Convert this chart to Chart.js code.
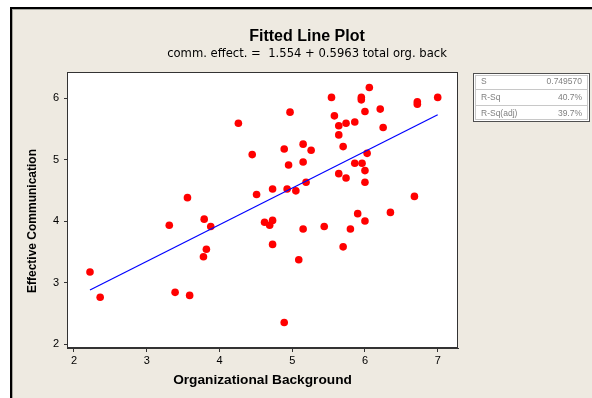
<!DOCTYPE html>
<html>
<head>
<meta charset="utf-8">
<script src="https://cdn.jsdelivr.net/npm/chart.js@4.4.1/dist/chart.umd.min.js"></script>
<style>
  html, body { margin: 0; padding: 0; background: #ffffff; }
  canvas { display: block; }
</style>
</head>
<body>
<canvas id="c" width="592" height="398"></canvas>
<script>
// ---- Data ----
const orgBackground = [2.22, 2.36, 3.31, 3.39, 3.56, 3.59, 3.78, 3.79, 3.82, 3.88,
  4.26, 4.45, 4.51, 4.62, 4.69, 4.73, 4.73, 4.73, 4.89, 4.89,
  4.93, 4.95, 4.97, 5.05, 5.09, 5.15, 5.15, 5.15, 5.19, 5.26,
  5.44, 5.54, 5.58, 5.64, 5.64, 5.64, 5.70, 5.70, 5.74, 5.74,
  5.80, 5.86, 5.86, 5.90, 5.95, 5.95, 5.96, 6.00, 6.00, 6.00,
  6.00, 6.03, 6.06, 6.21, 6.25, 6.35, 6.68, 6.72, 6.72, 7.00];
const effectiveComm = [3.17, 2.76, 3.93, 2.84, 4.38, 2.79, 3.42, 4.03, 3.54, 3.91,
  5.59, 5.08, 4.43, 3.98, 3.93, 4.01, 3.62, 4.52, 5.17, 2.35,
  4.52, 4.91, 5.77, 4.49, 3.37, 5.25, 4.96, 3.87, 4.63, 5.15,
  3.91, 6.01, 5.71, 5.55, 5.40, 4.77, 5.21, 3.58, 5.59, 4.70,
  3.87, 5.61, 4.94, 4.12, 6.01, 5.97, 4.94, 5.78, 4.82, 4.63,
  4.00, 5.10, 6.17, 5.82, 5.52, 4.14, 4.40, 5.94, 5.90, 6.01];
const fitLineX = [2.22, 7.00];
const fitLineY = [2.878, 5.728];
const xTickValues = [2, 3, 4, 5, 6, 7];
const yTickValues = [2, 3, 4, 5, 6];
const chartTitle = 'Fitted Line Plot';
const chartSubtitle = 'comm. effect. =  1.554 + 0.5963 total org. back';
const xAxisTitle = 'Organizational Background';
const yAxisTitle = 'Effective Communication';
const statLabels = ['S', 'R-Sq', 'R-Sq(adj)'];
const statValues = ['0.749570', '40.7%', '39.7%'];

const scatterData = orgBackground.map((x, i) => ({ x: x, y: effectiveComm[i] }));
const lineData = fitLineX.map((x, i) => ({ x: x, y: fitLineY[i] }));

const BG = '#EEEAE1';
const FONT = '"Liberation Sans", Arial, sans-serif';
const FONT2 = '"DejaVu Sans", Verdana, sans-serif';

const decorPlugin = {
  id: 'decor',
  beforeDraw(chart) {
    const ctx = chart.ctx;
    const a = chart.chartArea;
    ctx.save();
    ctx.fillStyle = '#ffffff';
    ctx.fillRect(0, 0, chart.width, chart.height);
    ctx.fillStyle = BG;
    ctx.fillRect(11, 8, chart.width - 11, chart.height - 8);
    // frame
    ctx.fillStyle = '#000000';
    ctx.fillRect(10, 7, chart.width - 10, 2);
    ctx.fillRect(10, 7, 2, chart.height - 7);
    ctx.fillStyle = '#A8A8A0';
    ctx.fillRect(12, 9, chart.width - 12, 1);
    ctx.fillRect(12, 9, 1, chart.height - 9);
    // plot area
    ctx.fillStyle = '#ffffff';
    ctx.fillRect(a.left, a.top, a.right - a.left, a.bottom - a.top);
    ctx.restore();
  },
  afterDraw(chart) {
    const ctx = chart.ctx;
    const a = chart.chartArea;
    ctx.save();
    // plot border
    ctx.strokeStyle = '#333333';
    ctx.lineWidth = 1;
    ctx.strokeRect(Math.round(a.left) + 0.5, Math.round(a.top) + 0.5,
      Math.round(a.right - a.left) - 1, Math.round(a.bottom - a.top) - 1);
    // titles
    ctx.fillStyle = '#000000';
    ctx.textAlign = 'center';
    ctx.textBaseline = 'middle';
    ctx.font = 'bold 16px ' + FONT;
    ctx.fillText(chartTitle, 307, 37);
    ctx.font = '11.6px ' + FONT2;
    ctx.fillText(chartSubtitle, 307, 54);
    // axis titles
    ctx.font = 'bold 13.7px ' + FONT;
    ctx.fillText(xAxisTitle, (a.left + a.right) / 2, 380);
    ctx.save();
    ctx.translate(33, 221);
    ctx.rotate(-Math.PI / 2);
    ctx.font = 'bold 12px ' + FONT;
    ctx.fillText(yAxisTitle, 0, 0);
    ctx.restore();
    // stats box
    const bx = 473, by = 73, bw = 117, bh = 49;
    ctx.fillStyle = '#ffffff';
    ctx.fillRect(bx, by, bw, bh);
    ctx.strokeStyle = '#505050';
    ctx.strokeRect(bx + 0.5, by + 0.5, bw - 1, bh - 1);
    ctx.strokeStyle = '#C8C8C8';
    ctx.strokeRect(bx + 2.5, by + 2.5, bw - 5, bh - 5);
    ctx.beginPath();
    ctx.moveTo(bx + 3, by + 16.5); ctx.lineTo(bx + bw - 3, by + 16.5);
    ctx.moveTo(bx + 3, by + 32.5); ctx.lineTo(bx + bw - 3, by + 32.5);
    ctx.stroke();
    ctx.fillStyle = '#808080';
    ctx.font = '8.5px ' + FONT;
    for (let i = 0; i < statLabels.length; i++) {
      const ry = by + 9 + i * 16;
      ctx.textAlign = 'left';
      ctx.fillText(statLabels[i], bx + 8, ry);
      ctx.textAlign = 'right';
      ctx.fillText(statValues[i], bx + bw - 8, ry);
    }
    ctx.restore();
  }
};

new Chart(document.getElementById('c'), {
  type: 'scatter',
  data: {
    datasets: [
      {
        type: 'line',
        label: 'Fit',
        data: lineData,
        borderColor: '#0000FF',
        borderWidth: 1.2,
        pointRadius: 0,
        fill: false,
        tension: 0
      },
      {
        label: 'Data',
        data: scatterData,
        backgroundColor: '#FF0000',
        borderWidth: 0,
        pointRadius: 3.8,
        pointHoverRadius: 3.8
      }
    ]
  },
  plugins: [decorPlugin],
  options: {
    responsive: false,
    animation: false,
    events: [],
    layout: { padding: { left: 0, top: 72, right: 134, bottom: 0 } },
    plugins: {
      legend: { display: false },
      tooltip: { enabled: false },
      title: { display: false }
    },
    scales: {
      x: {
        type: 'linear',
        min: 1.904,
        max: 7.279,
        afterBuildTicks: s => { s.ticks = xTickValues.map(v => ({ value: v })); },
        afterFit: s => { s.height = 50; },
        grid: { display: true, drawOnChartArea: false, drawTicks: true, tickLength: 4, tickColor: '#333333' },
        border: { display: true, color: '#333333' },
        ticks: { color: '#000000', font: { family: FONT, size: 11 }, padding: 2, maxRotation: 0 }
      },
      y: {
        type: 'linear',
        min: 1.935,
        max: 6.423,
        afterBuildTicks: s => { s.ticks = yTickValues.map(v => ({ value: v })); },
        afterFit: s => { s.width = 67; },
        grid: { display: true, drawOnChartArea: false, drawTicks: true, tickLength: 3, tickColor: '#333333' },
        border: { display: true, color: '#333333' },
        ticks: { color: '#000000', font: { family: FONT, size: 11 }, padding: 5 }
      }
    }
  }
});
</script>
</body>
</html>
